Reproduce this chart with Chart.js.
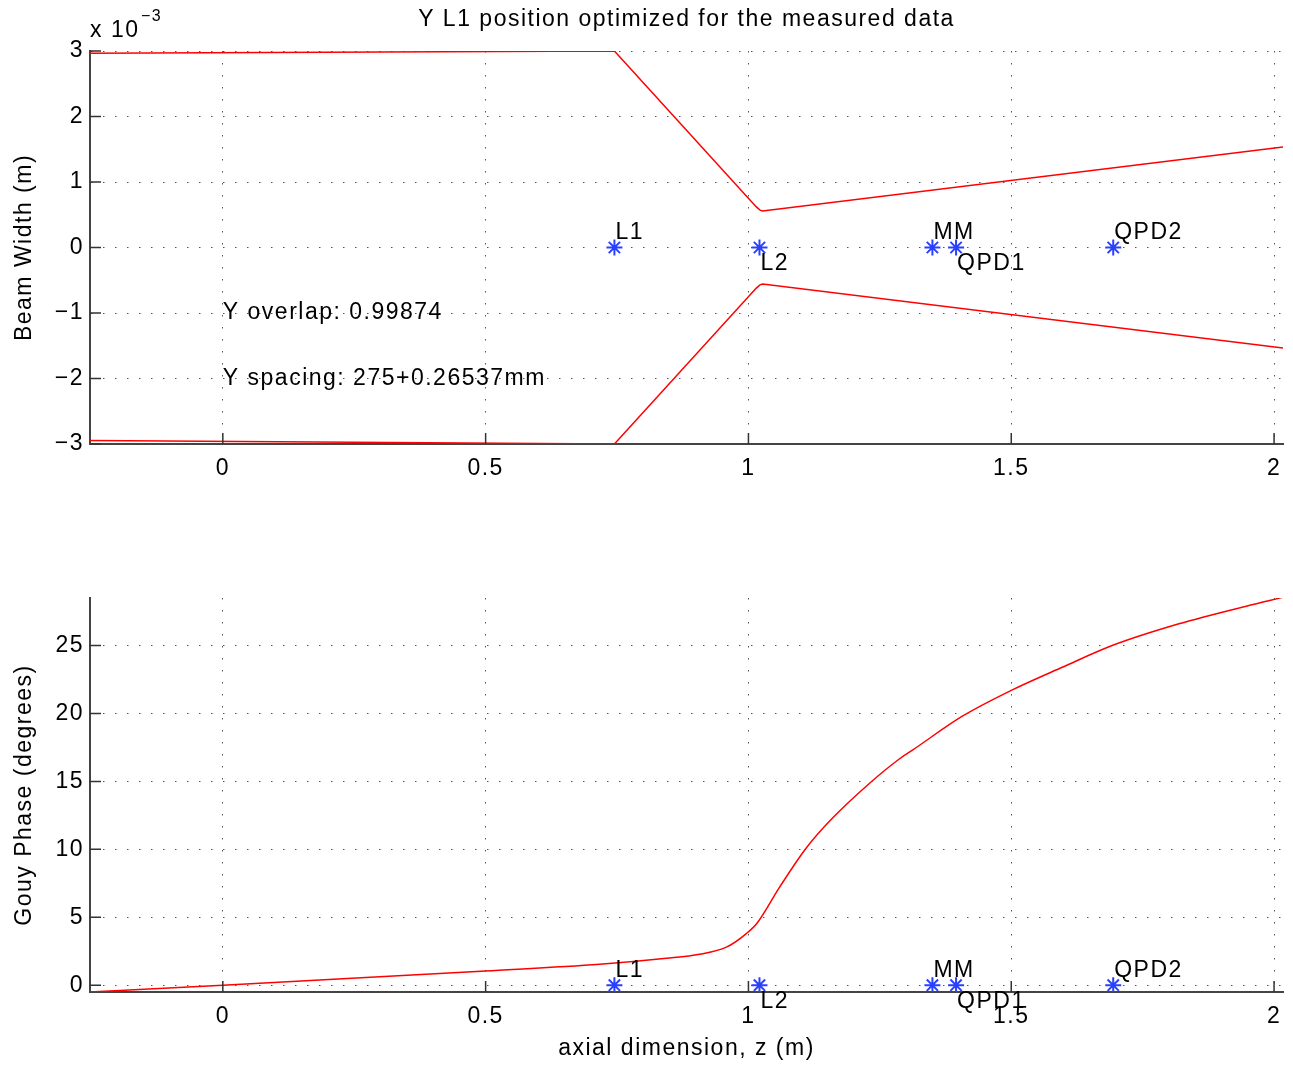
<!DOCTYPE html>
<html>
<head>
<meta charset="utf-8">
<script src="https://cdn.jsdelivr.net/npm/chart.js@4.4.1/dist/chart.umd.min.js"></script>
<style>
    body { margin: 0; background: #fff; }
    canvas { position: absolute; left: 0; }
</style>
</head>
<body>
<canvas id="widthChart" width="1293" height="530" style="top:0"></canvas>
<canvas id="gouyChart" width="1293" height="537" style="top:530px"></canvas>
<script>
// axis ticks
var xTicks = [0, 0.5, 1, 1.5, 2];
var xTickLabels = ['0', '0.5', '1', '1.5', '2'];
var widthTicks = [-0.003, -0.002, -0.001, 0, 0.001, 0.002, 0.003];
var widthTickLabels = ['\u22123', '\u22122', '\u22121', '0', '1', '2', '3'];
var gouyTicks = [0, 5, 10, 15, 20, 25];
var gouyTickLabels = ['0', '5', '10', '15', '20', '25'];

// optics along the beam
var opticNames = ['L1', 'L2', 'MM', 'QPD1', 'QPD2'];
var opticZ = [0.745, 1.021, 1.350, 1.395, 1.694];
var opticY = [0, 0, 0, 0, 0];

// beam width (m), upper and lower edge
var beamZ = [-0.2527, 0.745, 1.015, 1.022, 1.027, 2.017];
var beamUpper = [2.965e-3, 3.0e-3, 0.62e-3, 0.57e-3, 0.557e-3, 1.534e-3];
var beamLower = [-2.945e-3, -3.0e-3, -0.62e-3, -0.57e-3, -0.557e-3, -1.534e-3];

// gouy phase (degrees)
var gouyZ = [-0.2527, 0, 0.5, 0.717, 0.844, 0.907, 0.958, 0.996, 1.017, 1.059, 1.110, 1.160,
             1.230, 1.287, 1.312, 1.407, 1.5, 1.597, 1.692, 1.819, 1.947, 2.017];
var gouyPhase = [-0.5, 0, 1.05, 1.54, 1.98, 2.28, 2.8, 3.8, 4.6, 7.2, 10.1, 12.3,
                 14.85, 16.65, 17.3, 19.8, 21.7, 23.4, 25.0, 26.6, 27.9, 28.55];

var overlapText = 'Y overlap: 0.99874';
var spacingText = 'Y spacing: 275+0.26537mm';
var titleText = 'Y L1 position optimized for the measured data';

var zMin = -0.2527, zMax = 2.017;
var FONT = "'Liberation Sans', Arial, sans-serif";
var FSIZE = 23;

function pts(xs, ys) {
    return xs.map(function(x, i) { return {x: x, y: ys[i]}; });
}

// MATLAB-ish wide text
var spacing = {
    id: 'spacing',
    beforeUpdate: function(chart) { chart.ctx.letterSpacing = '1.5px'; },
    beforeDraw: function(chart) { chart.ctx.letterSpacing = '1.5px'; }
};

// ticks pointing inward, drawn over the plot
var inwardTicks = {
    id: 'inwardTicks',
    afterDraw: function(chart) {
        var ctx = chart.ctx, area = chart.chartArea;
        var xs = chart.scales.x, ys = chart.scales.y;
        ctx.save();
        ctx.strokeStyle = '#333';
        ctx.lineWidth = 1.5;
        ctx.beginPath();
        xs.ticks.forEach(function(t) {
            var px = xs.getPixelForValue(t.value);
            ctx.moveTo(px, area.bottom);
            ctx.lineTo(px, area.bottom - 11);
        });
        ys.ticks.forEach(function(t) {
            var py = ys.getPixelForValue(t.value);
            ctx.moveTo(area.left, py);
            ctx.lineTo(area.left + 11, py);
        });
        ctx.stroke();
        ctx.restore();
    }
};

// optic names next to the stars, alternating above / below
var opticLabels = {
    id: 'opticLabels',
    afterDraw: function(chart) {
        var ctx = chart.ctx, xs = chart.scales.x, ys = chart.scales.y;
        ctx.save();
        ctx.font = FSIZE + 'px ' + FONT;
        ctx.fillStyle = '#000';
        ctx.textAlign = 'left';
        ctx.textBaseline = 'middle';
        opticNames.forEach(function(name, i) {
            var px = xs.getPixelForValue(opticZ[i]);
            var py = ys.getPixelForValue(opticY[i]);
            ctx.fillText(name, px + 1, i % 2 === 0 ? py - 15 : py + 16);
        });
        ctx.restore();
    }
};

// title, exponent and the two notes of the upper plot
var widthNotes = {
    id: 'widthNotes',
    afterDraw: function(chart) {
        var ctx = chart.ctx, xs = chart.scales.x, ys = chart.scales.y, area = chart.chartArea;
        ctx.save();
        ctx.fillStyle = '#000';
        ctx.textBaseline = 'middle';
        ctx.font = FSIZE + 'px ' + FONT;
        ctx.textAlign = 'center';
        ctx.fillText(titleText, (area.left + area.right) / 2, 20);
        ctx.textAlign = 'left';
        ctx.fillText('x 10', area.left, 31);
        ctx.font = '16px ' + FONT;
        ctx.fillText('\u22123', area.left + 51, 17);
        ctx.font = FSIZE + 'px ' + FONT;
        ctx.fillText(overlapText, xs.getPixelForValue(0), ys.getPixelForValue(-0.001));
        ctx.fillText(spacingText, xs.getPixelForValue(0), ys.getPixelForValue(-0.002));
        ctx.restore();
    }
};

function xScale(height, title) {
    return {
        type: 'linear',
        min: zMin,
        max: zMax,
        afterBuildTicks: function(s) { s.ticks = xTicks.map(function(v) { return {value: v}; }); },
        afterFit: function(s) { s.height = height; },
        ticks: {
            autoSkip: false,
            maxRotation: 0,
            padding: 11,
            color: '#000',
            callback: function(v, i) { return xTickLabels[i]; }
        },
        grid: { color: '#555', lineWidth: 1, drawTicks: false },
        border: { color: '#444', width: 2, dash: [1.5, 10.5] },
        title: title ? {
            display: true,
            text: title,
            color: '#000',
            font: { size: FSIZE },
            padding: { top: 0, bottom: 5 }
        } : { display: false }
    };
}

function yScale(min, max, ticks, labels, title) {
    return {
        type: 'linear',
        min: min,
        max: max,
        afterBuildTicks: function(s) { s.ticks = ticks.map(function(v) { return {value: v}; }); },
        afterFit: function(s) { s.width = 90; },
        ticks: {
            autoSkip: false,
            padding: 6,
            color: '#000',
            callback: function(v, i) { return labels[i]; }
        },
        grid: { color: '#555', lineWidth: 1, drawTicks: false },
        border: { color: '#444', width: 2, dash: [1.5, 10.5] },
        title: {
            display: true,
            text: title,
            color: '#000',
            font: { size: FSIZE },
            padding: { top: 11, bottom: 0 }
        }
    };
}

var commonPlugins = {
    legend: { display: false },
    tooltip: { enabled: false },
    title: { display: false }
};

window.onload = function() {
    Chart.defaults.font.family = FONT;
    Chart.defaults.font.size = FSIZE;
    Chart.defaults.color = '#000';

    // Beam Width Chart
    var ctxWidth = document.getElementById('widthChart').getContext('2d');
    var widthChart = new Chart(ctxWidth, {
        type: 'scatter',
        data: {
            datasets: [{
                data: pts(beamZ, beamUpper),
                showLine: true,
                borderColor: '#ff0000',
                borderWidth: 1.5,
                pointRadius: 0
            }, {
                data: pts(beamZ, beamLower),
                showLine: true,
                borderColor: '#ff0000',
                borderWidth: 1.5,
                pointRadius: 0
            }, {
                data: pts(opticZ, opticY),
                showLine: false,
                pointStyle: 'star',
                pointRadius: 8,
                borderColor: '#2a40ff',
                borderWidth: 2
            }]
        },
        options: {
            responsive: false,
            animation: false,
            layout: { padding: { top: 51, right: 9, left: 0, bottom: 0 } },
            scales: {
                x: xScale(86, null),
                y: yScale(-0.003, 0.003, widthTicks, widthTickLabels, 'Beam Width (m)')
            },
            plugins: commonPlugins
        },
        plugins: [spacing, inwardTicks, opticLabels, widthNotes]
    });

    // Gouy Phase Chart
    var ctxGouy = document.getElementById('gouyChart').getContext('2d');
    var gouyChart = new Chart(ctxGouy, {
        type: 'scatter',
        data: {
            datasets: [{
                data: pts(gouyZ, gouyPhase),
                showLine: true,
                cubicInterpolationMode: 'monotone',
                borderColor: '#ff0000',
                borderWidth: 1.5,
                pointRadius: 0
            }, {
                data: pts(opticZ, opticY),
                showLine: false,
                pointStyle: 'star',
                pointRadius: 8,
                borderColor: '#2a40ff',
                borderWidth: 2
            }]
        },
        options: {
            responsive: false,
            animation: false,
            layout: { padding: { top: 68, right: 9, left: 0, bottom: 0 } },
            scales: {
                x: xScale(75, 'axial dimension, z (m)'),
                y: yScale(-0.5, 28.5, gouyTicks, gouyTickLabels, 'Gouy Phase (degrees)')
            },
            plugins: commonPlugins
        },
        plugins: [spacing, inwardTicks, opticLabels]
    });
};
</script>
</body>
</html>
